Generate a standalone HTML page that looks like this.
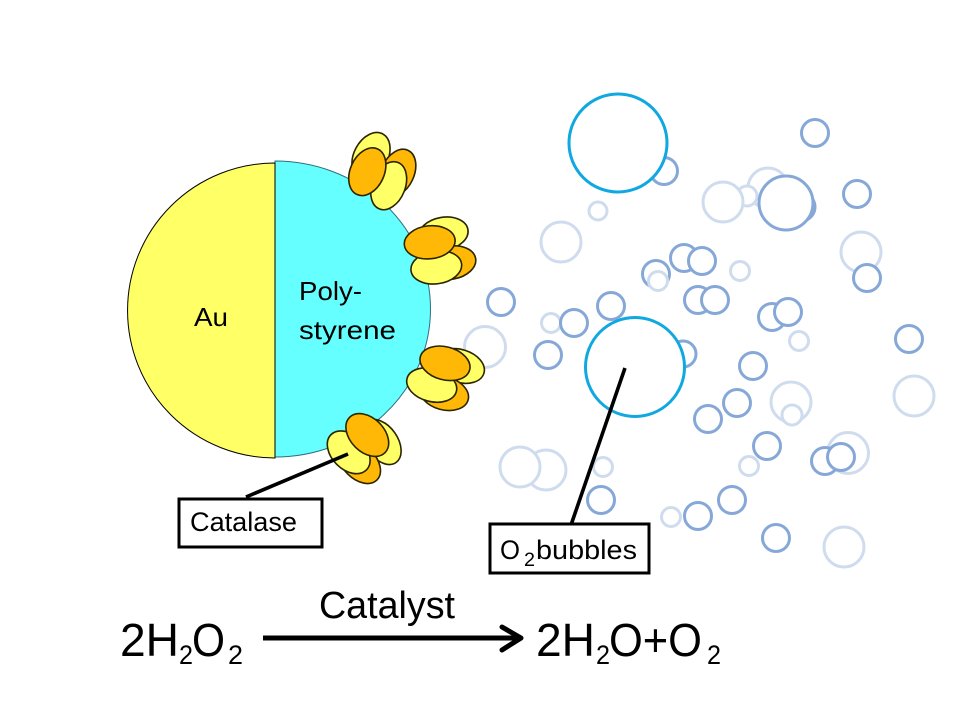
<!DOCTYPE html>
<html>
<head>
<meta charset="utf-8">
<style>
html,body{margin:0;padding:0;background:#fff}
svg{display:block}
text{font-family:"Liberation Sans",sans-serif;fill:#000}
.l{fill:#fff;stroke:#cfdcee;stroke-width:3}
.b{fill:#fff;stroke:#86a8d8;stroke-width:3}
.c{fill:none;stroke:#10a8e0;stroke-width:3}
.y{fill:#ffff66;stroke:#2a2400;stroke-width:1.6}
.o{fill:#ffb805;stroke:#2a2400;stroke-width:1.6}
</style>
</head>
<body>
<svg width="960" height="720" viewBox="0 0 960 720" xmlns="http://www.w3.org/2000/svg">
<rect width="960" height="720" fill="#fff"/>

<!-- bubbles -->
<circle class="l" cx="561" cy="242" r="20"/>
<circle class="l" cx="598" cy="211" r="9"/>
<circle class="l" cx="485" cy="347" r="20.5"/>
<circle class="l" cx="551" cy="323" r="9.5"/>
<circle class="l" cx="546" cy="470" r="20"/>
<circle class="l" cx="520" cy="467" r="20"/>
<circle class="l" cx="603" cy="467" r="9.5"/>
<circle class="l" cx="671" cy="517" r="9.5"/>
<circle class="l" cx="768" cy="188" r="20"/>
<circle class="l" cx="747" cy="196" r="10"/>
<circle class="l" cx="723" cy="202" r="20"/>
<circle class="l" cx="861" cy="252" r="20"/>
<circle class="l" cx="740" cy="271" r="9.5"/>
<circle class="l" cx="799" cy="341" r="9.5"/>
<circle class="l" cx="791" cy="402" r="20"/>
<circle class="l" cx="792" cy="415" r="10"/>
<circle class="l" cx="914" cy="396" r="20"/>
<circle class="l" cx="749" cy="466" r="9.5"/>
<circle class="l" cx="848" cy="453" r="20.5"/>
<circle class="l" cx="844" cy="547" r="20"/>

<circle class="b" cx="664" cy="171" r="13.5"/>
<circle class="b" cx="815" cy="133" r="13.5"/>
<circle class="b" cx="801" cy="207" r="14"/>
<circle class="b" cx="786" cy="203" r="27"/>
<circle class="b" cx="857" cy="194" r="13.5"/>
<circle class="b" cx="867" cy="278" r="13.5"/>
<circle class="b" cx="684" cy="258" r="13.5"/>
<circle class="b" cx="702" cy="261" r="13.5"/>
<circle class="b" cx="656" cy="274" r="13.5"/>
<circle class="l" cx="658" cy="281" r="9.5"/>
<circle class="b" cx="501" cy="302" r="13.5"/>
<circle class="b" cx="611" cy="306" r="13.5"/>
<circle class="b" cx="698" cy="300" r="13.5"/>
<circle class="b" cx="715" cy="300" r="13.5"/>
<circle class="b" cx="772" cy="317" r="13.5"/>
<circle class="b" cx="788" cy="312" r="13.5"/>
<circle class="b" cx="574" cy="323" r="13.5"/>
<circle class="b" cx="548" cy="355" r="13.5"/>
<circle class="b" cx="683" cy="354" r="13"/>
<circle class="b" cx="909" cy="339" r="13.5"/>
<circle class="b" cx="753" cy="366" r="13.5"/>
<circle class="b" cx="737" cy="403" r="13.5"/>
<circle class="b" cx="708" cy="419" r="13.5"/>
<circle class="b" cx="767" cy="446" r="13.5"/>
<circle class="b" cx="825" cy="461" r="13.5"/>
<circle class="b" cx="841" cy="457" r="13.5"/>
<circle class="b" cx="601" cy="500" r="13.5"/>
<circle class="b" cx="698" cy="516" r="13.5"/>
<circle class="b" cx="732" cy="500" r="13.5"/>
<circle class="b" cx="776" cy="538" r="13.5"/>

<circle cx="618" cy="143" r="49" class="c" style="fill:#fff"/>
<circle cx="635" cy="367" r="49.5" class="c" style="fill:#fff"/>

<!-- particle -->
<path d="M275 161 A155.5 148 0 0 1 275 457 Z" fill="#66ffff" stroke="#2f6f80" stroke-width="1"/>
<path d="M275 163 A147.5 147.5 0 0 0 275 458 Z" fill="#ffff66" stroke="#000" stroke-width="1"/>

<!-- catalase clusters -->
<ellipse class="y" cx="371" cy="156" rx="25" ry="17" transform="rotate(-62 371 156)"/>
<ellipse class="o" cx="397.5" cy="173" rx="25" ry="16.5" transform="rotate(-65 397.5 173)"/>
<ellipse class="y" cx="388.7" cy="185.7" rx="25" ry="16.5" transform="rotate(-68 388.7 185.7)"/>
<ellipse class="o" cx="367.3" cy="171.7" rx="25" ry="17" transform="rotate(-66 367.3 171.7)"/>

<ellipse class="y" cx="443.3" cy="233.8" rx="25" ry="16.5" transform="rotate(-10 443.3 233.8)"/>
<ellipse class="o" cx="451" cy="262.7" rx="25" ry="16.5" transform="rotate(-10 451 262.7)"/>
<ellipse class="y" cx="436.3" cy="267.3" rx="25.5" ry="16.5" transform="rotate(-8 436.3 267.3)"/>
<ellipse class="o" cx="429.7" cy="242.3" rx="25.5" ry="16.5" transform="rotate(-6 429.7 242.3)"/>

<ellipse class="y" cx="460" cy="366" rx="25" ry="16.5" transform="rotate(17 460 366)"/>
<ellipse class="o" cx="444" cy="393.3" rx="25" ry="16.5" transform="rotate(15 444 393.3)"/>
<ellipse class="y" cx="431.7" cy="385" rx="25.5" ry="16.5" transform="rotate(15 431.7 385)"/>
<ellipse class="o" cx="445" cy="363.3" rx="25.5" ry="16.5" transform="rotate(15 445 363.3)"/>

<ellipse class="y" cx="381.7" cy="442" rx="25" ry="16" transform="rotate(55 381.7 442)"/>
<ellipse class="o" cx="359.3" cy="462.3" rx="25" ry="16.5" transform="rotate(45 359.3 462.3)"/>
<ellipse class="y" cx="348.7" cy="452.3" rx="25" ry="17" transform="rotate(45 348.7 452.3)"/>
<ellipse class="o" cx="367.3" cy="435" rx="25" ry="17" transform="rotate(45 367.3 435)"/>

<!-- leader lines -->
<line x1="246" y1="497" x2="348" y2="454" stroke="#000" stroke-width="3.6"/>
<line x1="625" y1="368" x2="571" y2="525" stroke="#000" stroke-width="3.6"/>

<!-- label boxes -->
<rect x="179" y="499" width="143" height="48" fill="#fff" stroke="#000" stroke-width="3"/>
<rect x="490" y="524" width="159" height="49" fill="#fff" stroke="#000" stroke-width="3"/>

<!-- particle labels -->
<text x="194" y="326" font-size="26" textLength="34" lengthAdjust="spacingAndGlyphs">Au</text>
<text x="299" y="300" font-size="26" textLength="63" lengthAdjust="spacingAndGlyphs">Poly-</text>
<text x="299" y="339" font-size="26" textLength="97" lengthAdjust="spacingAndGlyphs">styrene</text>

<text x="190" y="531" font-size="27" textLength="107" lengthAdjust="spacingAndGlyphs">Catalase</text>
<text x="500" y="559" font-size="27" textLength="20" lengthAdjust="spacingAndGlyphs">O</text>
<text x="524" y="566" font-size="19" textLength="11" lengthAdjust="spacingAndGlyphs">2</text>
<text x="536" y="559" font-size="27" textLength="101" lengthAdjust="spacingAndGlyphs">bubbles</text>

<!-- equation -->
<text x="319" y="618" font-size="38" textLength="136" lengthAdjust="spacingAndGlyphs">Catalyst</text>

<text x="120" y="656" font-size="46" textLength="59" lengthAdjust="spacingAndGlyphs">2H</text>
<text x="179" y="664" font-size="27" textLength="14" lengthAdjust="spacingAndGlyphs">2</text>
<text x="192" y="656" font-size="46" textLength="33" lengthAdjust="spacingAndGlyphs">O</text>
<text x="228" y="664" font-size="27" textLength="15" lengthAdjust="spacingAndGlyphs">2</text>

<line x1="263" y1="638" x2="518" y2="638" stroke="#000" stroke-width="5"/>
<polyline points="502,627 521,638 502,650" fill="none" stroke="#000" stroke-width="5" stroke-linecap="round" stroke-linejoin="round"/>

<text x="536" y="656" font-size="46" textLength="59" lengthAdjust="spacingAndGlyphs">2H</text>
<text x="596" y="664" font-size="27" textLength="14" lengthAdjust="spacingAndGlyphs">2</text>
<text x="609" y="656" font-size="46" textLength="93" lengthAdjust="spacingAndGlyphs">O+O</text>
<text x="707" y="664" font-size="27" textLength="14" lengthAdjust="spacingAndGlyphs">2</text>
</svg>
</body>
</html>
